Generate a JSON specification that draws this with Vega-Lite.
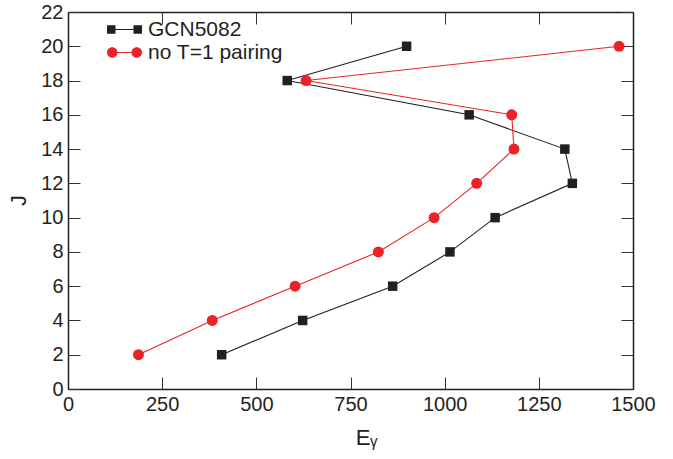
{
  "$schema": "https://vega.github.io/schema/vega-lite/v6.json",
  "width": 565,
  "height": 377,
  "autosize": {"type": "none"},
  "padding": {"left": 68, "top": 12, "right": 40, "bottom": 70},
  "background": "white",
  "config": {
    "view": {"stroke": null},
    "font": "Liberation Sans",
    "axis": {
      "domainColor": "#231f20",
      "domainWidth": 1.5,
      "tickColor": "#333333",
      "tickWidth": 1,
      "tickSize": -12,
      "grid": false,
      "labelFlush": false,
      "labelOverlap": false,
      "labelFont": "Liberation Sans",
      "labelFontSize": 20,
      "labelColor": "#231f20",
      "titleFont": "Liberation Sans",
      "titleFontSize": 22,
      "titleFontWeight": "normal",
      "titleColor": "#231f20"
    }
  },
  "data": {
    "values": [
      {"series": "GCN5082", "E": 408, "J": 2},
      {"series": "GCN5082", "E": 623, "J": 4},
      {"series": "GCN5082", "E": 862, "J": 6},
      {"series": "GCN5082", "E": 1014, "J": 8},
      {"series": "GCN5082", "E": 1134, "J": 10},
      {"series": "GCN5082", "E": 1339, "J": 12},
      {"series": "GCN5082", "E": 1319, "J": 14},
      {"series": "GCN5082", "E": 1065, "J": 16},
      {"series": "GCN5082", "E": 582, "J": 18},
      {"series": "GCN5082", "E": 899, "J": 20},
      {"series": "no T=1 pairing", "E": 187, "J": 2},
      {"series": "no T=1 pairing", "E": 383, "J": 4},
      {"series": "no T=1 pairing", "E": 603, "J": 6},
      {"series": "no T=1 pairing", "E": 824, "J": 8},
      {"series": "no T=1 pairing", "E": 972, "J": 10},
      {"series": "no T=1 pairing", "E": 1085, "J": 12},
      {"series": "no T=1 pairing", "E": 1184, "J": 14},
      {"series": "no T=1 pairing", "E": 1178, "J": 16},
      {"series": "no T=1 pairing", "E": 632, "J": 18},
      {"series": "no T=1 pairing", "E": 1463, "J": 20}
    ]
  },
  "layer": [
    {
      "mark": {"type": "line", "strokeWidth": 1.1},
      "encoding": {
        "x": {
          "field": "E", "type": "quantitative",
          "scale": {"domain": [0, 1500], "nice": false, "zero": false},
          "axis": {
            "orient": "bottom",
            "values": [0, 250, 500, 750, 1000, 1250, 1500],
            "format": "d",
            "labelPadding": 17,
            "title": "Eᵧ",
            "titleX": 298,
            "titleY": 55,
            "titleAlign": "center",
            "titleBaseline": "alphabetic"
          }
        },
        "y": {
          "field": "J", "type": "quantitative",
          "scale": {"domain": [0, 22], "nice": false, "zero": false},
          "axis": {
            "orient": "left",
            "values": [0, 2, 4, 6, 8, 10, 12, 14, 16, 18, 20, 22],
            "format": "d",
            "labelPadding": 17,
            "title": "J",
            "titleX": -50,
            "titleY": 188,
            "titleAlign": "center",
            "titleBaseline": "middle",
            "titleAngle": -90
          }
        },
        "color": {
          "field": "series", "type": "nominal",
          "scale": {"domain": ["GCN5082", "no T=1 pairing"], "range": ["#231f20", "#ec2227"]},
          "legend": {
            "orient": "none",
            "legendX": 39,
            "legendY": 6.5,
            "title": null,
            "padding": 0,
            "symbolSize": 1225,
            "clipHeight": 22,
            "labelFont": "Liberation Sans",
            "labelFontSize": 21,
            "labelColor": "#231f20",
            "labelOffset": 6,
            "rowPadding": 1,
            "encode": {
              "symbols": {
                "update": {
                  "shape": {"signal": "datum.value === 'GCN5082' ? 'M-1,-0.243H-0.514V0.243H-1Z M-0.514,-0.035H0.514V0.035H-0.514Z M0.514,-0.243H1V0.243H0.514Z' : 'M-1,0A0.3,0.3 0 1,0 -0.4,0A0.3,0.3 0 1,0 -1,0Z M-0.4,-0.035H0.4V0.035H-0.4Z M0.4,0A0.3,0.3 0 1,0 1,0A0.3,0.3 0 1,0 0.4,0Z'"},
                  "fill": {"signal": "datum.value === 'GCN5082' ? '#231f20' : '#ec2227'"},
                  "stroke": {"value": "transparent"},
                  "strokeWidth": {"value": 0},
                  "opacity": {"value": 1},
                  "fillOpacity": {"value": 1}
                }
              }
            }
          }
        },
        "order": {"field": "J", "type": "quantitative"}
      }
    },
    {
      "transform": [{"filter": "datum.series === 'GCN5082'"}],
      "mark": {"type": "point", "shape": "square", "filled": true, "size": 90, "opacity": 1},
      "encoding": {
        "x": {
          "field": "E", "type": "quantitative",
          "axis": {
            "orient": "top",
            "values": [0, 250, 500, 750, 1000, 1250, 1500],
            "labels": false,
            "title": null
          }
        },
        "y": {
          "field": "J", "type": "quantitative",
          "axis": {
            "orient": "right",
            "values": [0, 2, 4, 6, 8, 10, 12, 14, 16, 18, 20, 22],
            "labels": false,
            "title": null
          }
        },
        "color": {"field": "series", "type": "nominal", "legend": null}
      }
    },
    {
      "transform": [{"filter": "datum.series === 'no T=1 pairing'"}],
      "mark": {"type": "point", "shape": "circle", "filled": true, "size": 121, "opacity": 1},
      "encoding": {
        "x": {"field": "E", "type": "quantitative", "axis": null},
        "y": {"field": "J", "type": "quantitative", "axis": null},
        "color": {"field": "series", "type": "nominal", "legend": null}
      }
    }
  ],
  "resolve": {"axis": {"x": "independent", "y": "independent"}}
}
